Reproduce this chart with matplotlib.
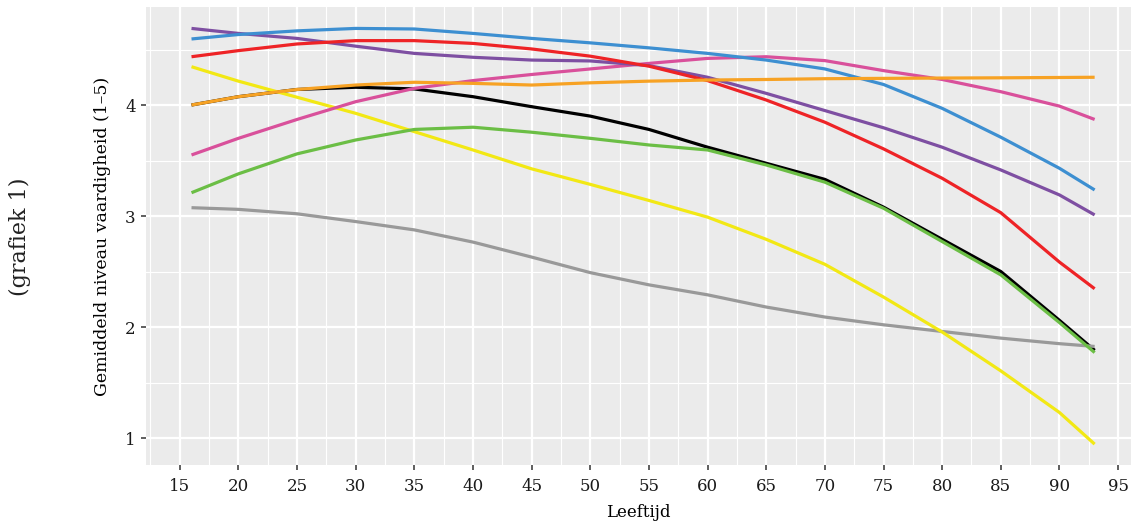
import numpy as np
import matplotlib.pyplot as plt

# data
ages = [16, 20, 25, 30, 35, 40, 45, 50, 55, 60, 65, 70, 75, 80, 85, 90, 93]

black = [4.00, 4.075, 4.14, 4.16, 4.145, 4.075, 3.985, 3.90, 3.78, 3.62, 3.475, 3.33, 3.08, 2.79, 2.50, 2.06, 1.79]
blue = [4.595, 4.635, 4.668, 4.69, 4.685, 4.645, 4.60, 4.56, 4.515, 4.465, 4.405, 4.325, 4.185, 3.97, 3.71, 3.43, 3.235]
purple = [4.69, 4.645, 4.60, 4.53, 4.465, 4.43, 4.405, 4.397, 4.355, 4.25, 4.105, 3.95, 3.795, 3.62, 3.415, 3.19, 3.01]
red = [4.435, 4.49, 4.55, 4.58, 4.58, 4.555, 4.505, 4.44, 4.35, 4.22, 4.045, 3.845, 3.605, 3.34, 3.03, 2.585, 2.345]
pink = [3.55, 3.70, 3.87, 4.03, 4.15, 4.22, 4.275, 4.325, 4.375, 4.42, 4.435, 4.40, 4.31, 4.23, 4.12, 3.99, 3.87]
orange = [4.00, 4.075, 4.14, 4.18, 4.205, 4.195, 4.18, 4.20, 4.215, 4.225, 4.23, 4.237, 4.24, 4.243, 4.245, 4.248, 4.25]
green = [3.21, 3.38, 3.56, 3.685, 3.78, 3.80, 3.755, 3.70, 3.64, 3.595, 3.46, 3.305, 3.07, 2.77, 2.47, 2.04, 1.77]
yellow = [4.345, 4.215, 4.07, 3.925, 3.76, 3.595, 3.425, 3.285, 3.14, 2.99, 2.79, 2.565, 2.27, 1.955, 1.605, 1.23, 0.945]
grey = [3.075, 3.06, 3.02, 2.95, 2.875, 2.765, 2.63, 2.49, 2.38, 2.29, 2.18, 2.09, 2.02, 1.96, 1.90, 1.85, 1.825]

series = [
  (black, '#000000'),
  (grey, '#999999'),
  (yellow, '#F2E814'),
  (green, '#6BBE45'),
  (pink, '#D9509B'),
  (purple, '#7E4FA2'),
  (red, '#EE2326'),
  (blue, '#3D8FD1'),
  (orange, '#F7A224'),
]

x_ticks = list(range(15, 100, 5))
y_ticks = [1, 2, 3, 4]

plt.rcParams['font.family'] = ['DejaVu Serif']

fig = plt.figure(figsize=(11.31, 5.27), dpi=100)
ax = fig.add_axes([146/1131, 1 - 465/527, 1 - 146/1131, (465 - 7)/527])

ax.set_facecolor('#EBEBEB')
for s in ax.spines.values():
  s.set_visible(False)

ax.set_xlim(12.12, 96.1)
ax.set_ylim(0.757, 4.883)

ax.set_xticks(x_ticks)
ax.set_yticks(y_ticks)
ax.set_xticks(np.arange(12.5, 97, 5), minor=True)
ax.set_yticks(np.arange(1.5, 5, 1), minor=True)

ax.grid(which='major', color='white', linewidth=1.6)
ax.grid(which='minor', color='white', linewidth=0.8)
ax.set_axisbelow(True)
ax.tick_params(which='major', length=3.5, width=1.1, color='#333333', labelsize=12, labelcolor='#1a1a1a')
ax.tick_params(axis='x', which='major', pad=6)
ax.tick_params(axis='y', which='major', pad=4)
ax.tick_params(which='minor', length=0)

for vals, col in series:
  ax.plot(ages, vals, color=col, linewidth=2.3, solid_capstyle='butt', solid_joinstyle='round')

ax.set_xlabel('Leeftijd', fontsize=12, labelpad=6)
ax.set_ylabel('Gemiddeld niveau vaardigheid (1–5)', fontsize=12.5, labelpad=10)

fig.text(20/1131, 1 - 237/527, '(grafiek 1)', rotation=90, fontsize=16, ha='center', va='center', color='#222222')

fig.savefig('out.png', dpi=100)
